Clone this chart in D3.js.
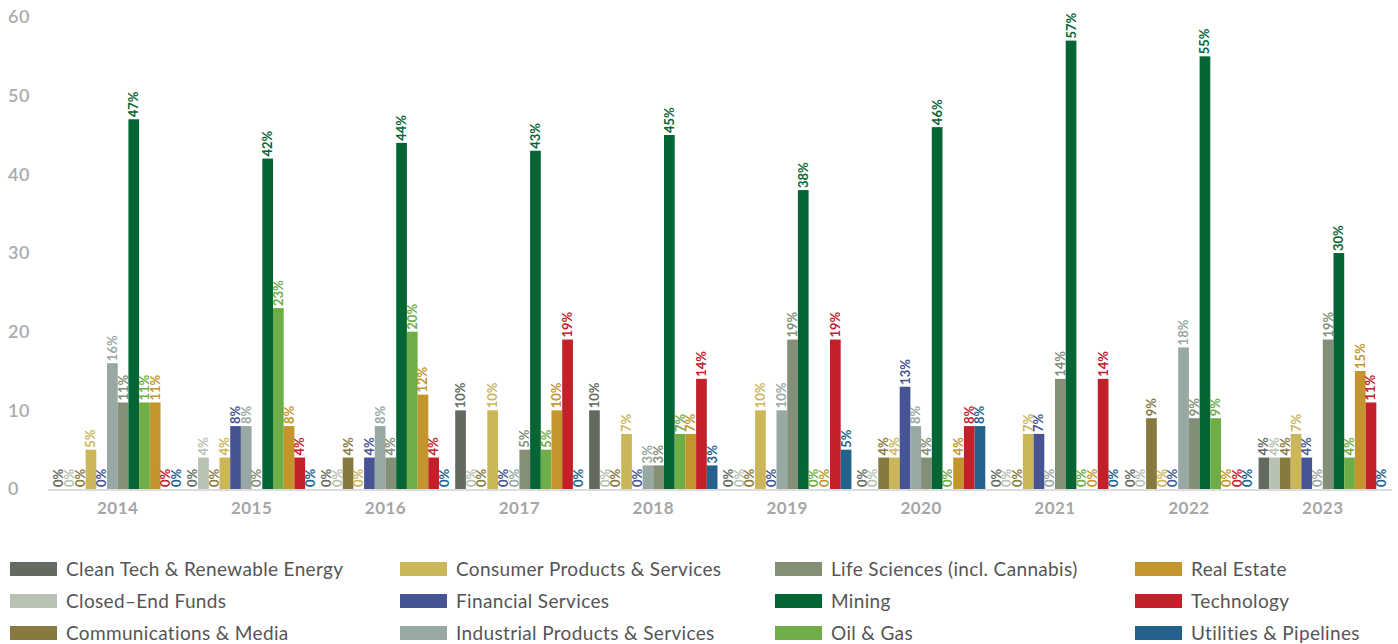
<!DOCTYPE html>
<html>
<head>
<meta charset="utf-8">
<script src="https://cdn.jsdelivr.net/npm/d3@7"></script>
<style>
  html, body { margin: 0; padding: 0; background: #fff; }
  svg { display: block; }
  text { font-family: "Lato", "Noto Sans", sans-serif; }
</style>
</head>
<body>
<svg id="chart" width="1398" height="644"></svg>
<script>
// Years shown along the x axis
const years = ["2014", "2015", "2016", "2017", "2018", "2019", "2020", "2021", "2022", "2023"];

// Sectors, in bar order within each year
const sectors = [
  "Clean Tech & Renewable Energy",
  "Closed\u2013End Funds",
  "Communications & Media",
  "Consumer Products & Services",
  "Financial Services",
  "Industrial Products & Services",
  "Life Sciences (incl. Cannabis)",
  "Mining",
  "Oil & Gas",
  "Real Estate",
  "Technology",
  "Utilities & Pipelines"
];

const sectorColors = [
  "#636b61", "#b7c2b2", "#877a3f", "#cbb65a", "#465493", "#98a8a2",
  "#838f76", "#066535", "#6fad46", "#c4952d", "#c42029", "#22628c"
];

// Share of listings per sector (%), one array per sector, by year
const cleanTech     = [0, 0, 0, 10, 10, 0, 0, 0, 0, 4];
const closedEnd     = [0, 4, 0, 0, 0, 0, 0, 0, 0, 4];
const communications= [0, 0, 4, 0, 0, 0, 4, 0, 9, 4];
const consumer      = [5, 4, 0, 10, 7, 10, 4, 7, 0, 7];
const financial     = [0, 8, 4, 0, 0, 0, 13, 7, 0, 4];
const industrial    = [16, 8, 8, 0, 3, 10, 8, 0, 18, 0];
const lifeSciences  = [11, 0, 4, 5, 3, 19, 4, 14, 9, 19];
const mining        = [47, 42, 44, 43, 45, 38, 46, 57, 55, 30];
const oilGas        = [11, 23, 20, 5, 7, 0, 0, 0, 9, 4];
const realEstate    = [11, 8, 12, 10, 7, 0, 4, 0, 0, 15];
const technology    = [0, 4, 4, 19, 14, 19, 8, 14, 0, 11];
const utilities     = [0, 0, 0, 0, 3, 5, 8, 0, 0, 0];

const seriesValues = [cleanTech, closedEnd, communications, consumer, financial, industrial,
                      lifeSciences, mining, oilGas, realEstate, technology, utilities];

const yTicks = [0, 10, 20, 30, 40, 50, 60];

const svg = d3.select("#chart");

const x0 = d3.scaleBand().domain(years).range([53.5, 1387]).paddingInner(0.041).paddingOuter(0);
const x1 = d3.scaleBand().domain(d3.range(sectors.length)).range([0, x0.bandwidth()]).padding(0);
const y = d3.scaleLinear().domain([0, 60]).range([489, 17]);

// y axis tick labels (no axis line)
const yAxis = d3.axisLeft(y).tickValues(yTicks).tickSize(0).tickPadding(0);
const yG = svg.append("g").attr("transform", "translate(8,0)").call(yAxis);
yG.select(".domain").remove();
yG.selectAll("text")
  .attr("text-anchor", "start")
  .attr("x", 0)
  .attr("dy", "0.32em")
  .attr("fill", "#ababab")
  .style("font-size", "18px")
  .style("font-weight", "600")
  .style("letter-spacing", "0.5px");

// baseline
svg.append("line")
  .attr("x1", 48).attr("x2", 1392)
  .attr("y1", y(0) + 1).attr("y2", y(0) + 1)
  .attr("stroke", "#d0d0d0").attr("stroke-width", 1.5);

// bars and value labels
const groups = svg.append("g").selectAll("g")
  .data(years)
  .join("g")
  .attr("transform", d => `translate(${x0(d)},0)`);

const cells = groups.selectAll("g.cell")
  .data((yr, yi) => sectors.map((s, si) => ({ si, v: seriesValues[si][yi] })))
  .join("g").attr("class", "cell");

cells.append("rect")
  .attr("x", d => x1(d.si))
  .attr("width", x1.bandwidth())
  .attr("y", d => y(d.v))
  .attr("height", d => y(0) - y(d.v))
  .attr("fill", d => sectorColors[d.si]);

cells.append("text")
  .attr("transform", d => `translate(${x1(d.si) + x1.bandwidth() / 2 + 4.5},${y(d.v) - 2}) rotate(-90)`)
  .attr("text-anchor", "start")
  .attr("fill", d => sectorColors[d.si])
  .style("font-size", "13px")
  .style("font-weight", "700")
  .text(d => d.v + "%");

// x axis year labels
const xAxis = d3.axisBottom(x0).tickSize(0).tickPadding(0);
const xG = svg.append("g").attr("transform", `translate(0,${y(0)})`).call(xAxis);
xG.select(".domain").remove();
xG.selectAll("text")
  .attr("y", 13)
  .attr("dy", "0.71em")
  .attr("fill", "#a6a6a6")
  .style("font-size", "17px")
  .style("font-weight", "700")
  .style("letter-spacing", "0.5px");

// legend: four columns, three rows, filled column by column
const legendCols = [10, 400, 775, 1135];
const legendRows = [569, 601, 633];
const legend = svg.append("g").selectAll("g")
  .data(sectors)
  .join("g")
  .attr("transform", (d, i) => `translate(${legendCols[Math.floor(i / 3)]},${legendRows[i % 3]})`);

legend.append("rect")
  .attr("x", 0).attr("y", -7)
  .attr("width", 47).attr("height", 14)
  .attr("fill", (d, i) => sectorColors[i]);

legend.append("text")
  .attr("x", 56).attr("y", 0)
  .attr("dy", "0.35em")
  .attr("fill", "#555")
  .style("font-size", "19px")
  .style("letter-spacing", "0.35px")
  .text(d => d);
</script>
</body>
</html>
